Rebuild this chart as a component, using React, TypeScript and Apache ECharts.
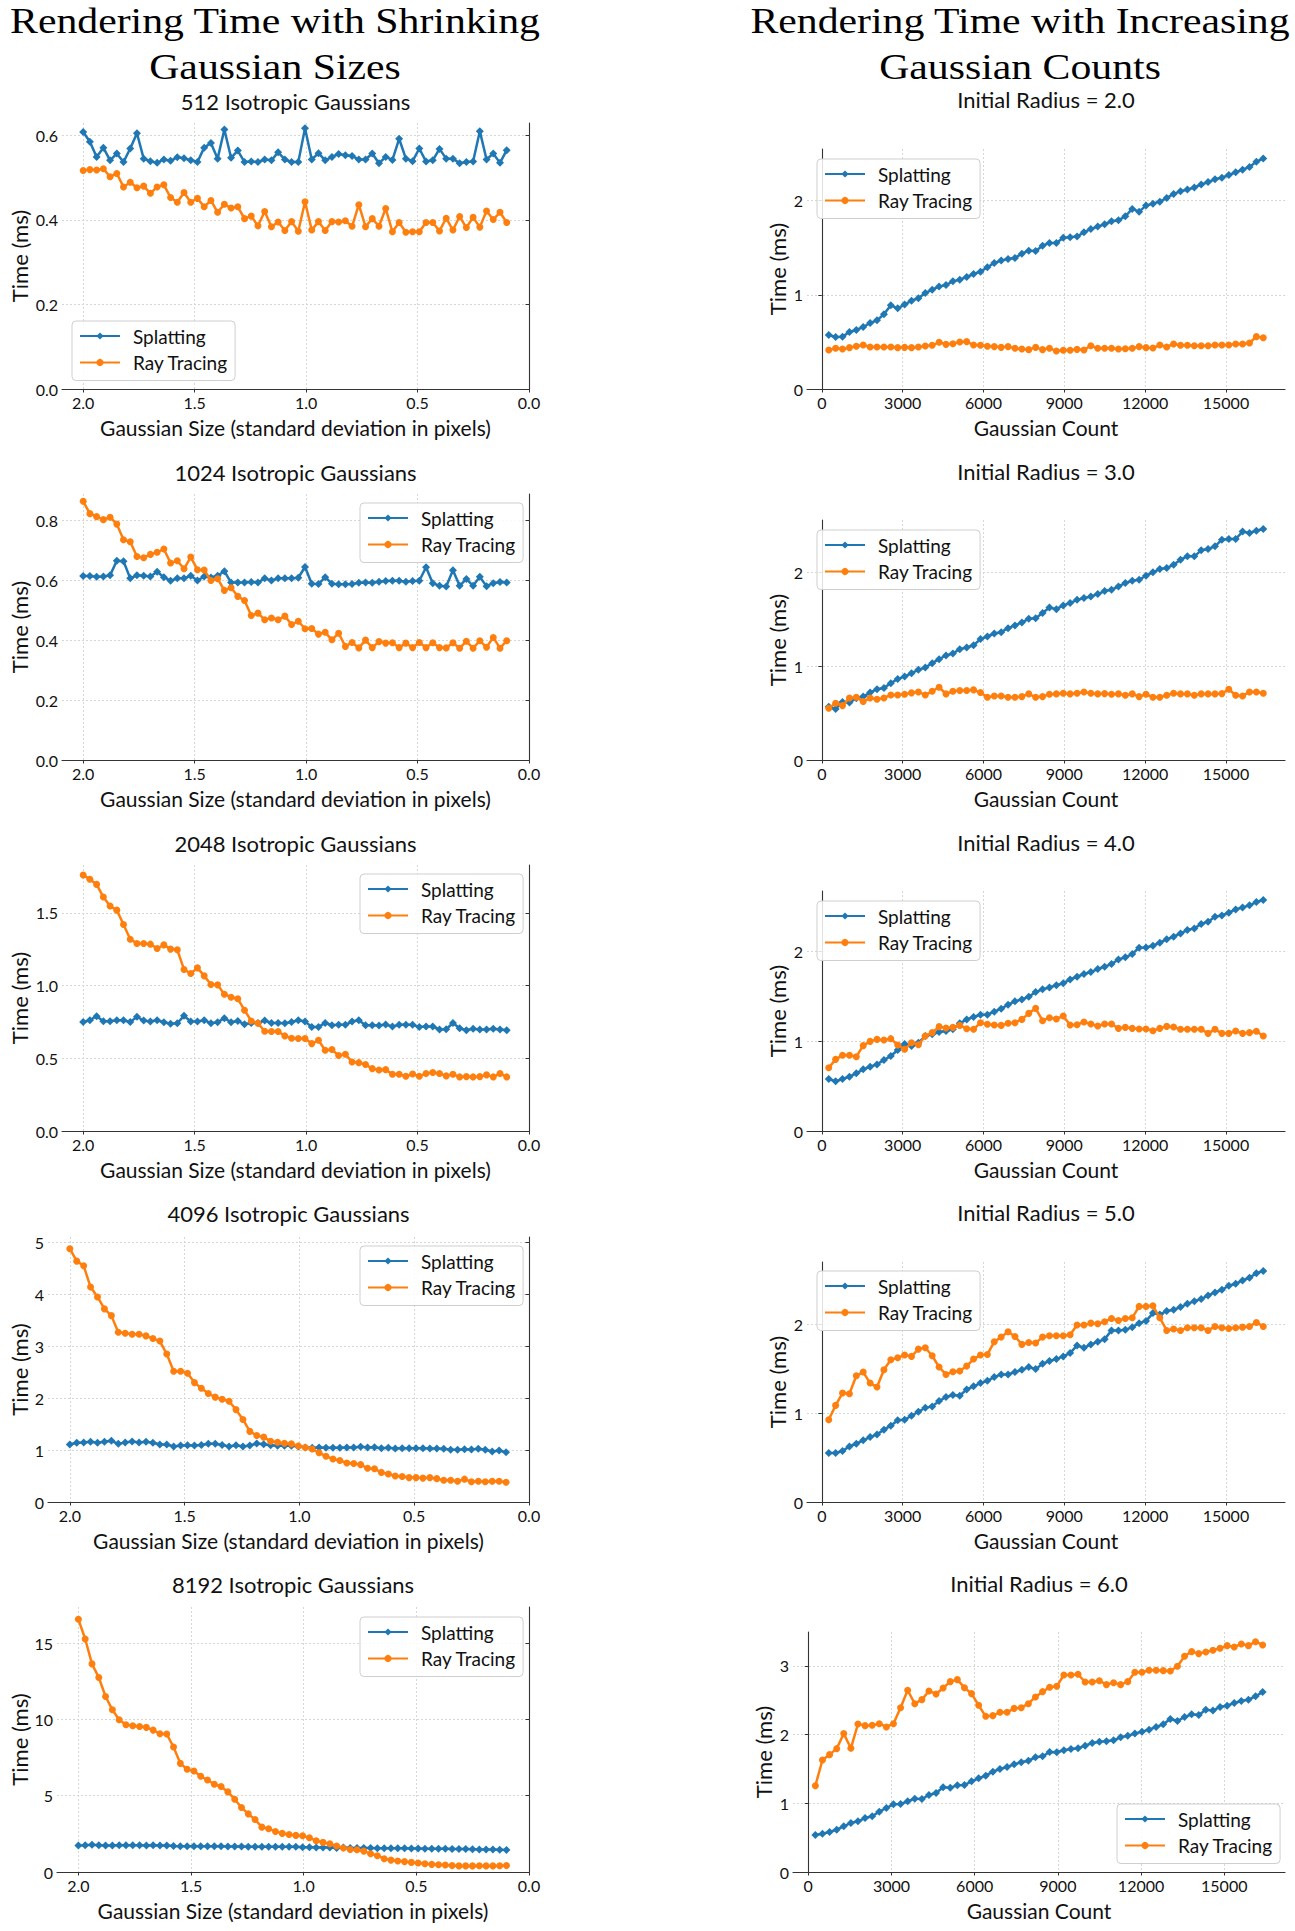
import React, { useEffect, useRef } from "react";
import * as echarts from "echarts";

// ---------- sample grids ----------
const N = 64;
const sizes = Array.from({ length: N }, (_, i) => 2 - (i * 1.9) / 63); // std-dev in pixels
const counts = Array.from({ length: N }, (_, i) => 256 * (i + 1)); // gaussian counts

// ---------- left column: shrinking gaussian sizes ----------
const splat512 = [0.608,0.585,0.549,0.571,0.541,0.557,0.537,0.569,0.605,0.545,0.539,0.535,0.543,0.540,0.548,0.546,0.541,0.537,0.571,0.582,0.545,0.614,0.547,0.564,0.537,0.538,0.537,0.543,0.541,0.560,0.543,0.537,0.537,0.617,0.543,0.558,0.541,0.549,0.556,0.553,0.551,0.543,0.543,0.557,0.534,0.549,0.542,0.592,0.545,0.539,0.569,0.538,0.541,0.568,0.545,0.545,0.534,0.537,0.538,0.610,0.543,0.557,0.535,0.565];
const ray512 = [0.517,0.519,0.518,0.521,0.502,0.510,0.478,0.489,0.476,0.480,0.463,0.478,0.483,0.453,0.442,0.465,0.442,0.451,0.431,0.446,0.418,0.437,0.428,0.431,0.403,0.409,0.386,0.420,0.384,0.395,0.375,0.396,0.373,0.443,0.376,0.396,0.375,0.396,0.395,0.398,0.385,0.436,0.384,0.403,0.385,0.427,0.372,0.394,0.371,0.372,0.372,0.394,0.394,0.374,0.404,0.376,0.408,0.382,0.406,0.383,0.421,0.401,0.418,0.394];

const splat1024 = [0.614,0.614,0.611,0.612,0.616,0.665,0.663,0.606,0.616,0.615,0.612,0.628,0.610,0.598,0.606,0.606,0.615,0.599,0.612,0.609,0.615,0.630,0.592,0.592,0.592,0.594,0.592,0.606,0.599,0.606,0.606,0.606,0.608,0.644,0.588,0.587,0.610,0.588,0.586,0.586,0.587,0.591,0.592,0.591,0.595,0.597,0.598,0.598,0.595,0.597,0.598,0.643,0.590,0.581,0.579,0.633,0.581,0.604,0.581,0.611,0.580,0.590,0.594,0.592];
const ray1024 = [0.863,0.822,0.812,0.802,0.810,0.787,0.735,0.728,0.679,0.675,0.686,0.693,0.704,0.657,0.665,0.638,0.677,0.635,0.634,0.599,0.605,0.566,0.575,0.546,0.532,0.482,0.490,0.468,0.474,0.468,0.480,0.452,0.463,0.438,0.439,0.420,0.426,0.401,0.423,0.379,0.392,0.374,0.400,0.375,0.395,0.390,0.391,0.375,0.390,0.375,0.392,0.375,0.391,0.375,0.374,0.391,0.373,0.396,0.373,0.398,0.376,0.409,0.373,0.398];

const splat2048 = [0.750,0.762,0.789,0.755,0.755,0.762,0.762,0.750,0.785,0.760,0.753,0.762,0.748,0.737,0.741,0.792,0.753,0.753,0.762,0.741,0.748,0.776,0.748,0.757,0.734,0.743,0.743,0.760,0.743,0.743,0.741,0.750,0.762,0.753,0.716,0.716,0.743,0.727,0.730,0.730,0.753,0.762,0.727,0.727,0.725,0.732,0.718,0.730,0.730,0.730,0.716,0.718,0.718,0.698,0.700,0.743,0.707,0.693,0.704,0.698,0.698,0.704,0.698,0.693];
const ray2048 = [1.760,1.732,1.696,1.609,1.547,1.519,1.420,1.319,1.290,1.290,1.285,1.255,1.280,1.251,1.246,1.111,1.083,1.122,1.067,1.007,1.005,0.941,0.920,0.909,0.831,0.757,0.741,0.686,0.684,0.684,0.654,0.638,0.636,0.636,0.601,0.624,0.555,0.560,0.519,0.528,0.475,0.470,0.457,0.429,0.420,0.422,0.390,0.390,0.376,0.392,0.376,0.395,0.402,0.395,0.379,0.390,0.372,0.374,0.372,0.374,0.386,0.372,0.395,0.372];

const splat4096 = [1.108,1.140,1.146,1.159,1.140,1.159,1.178,1.120,1.146,1.165,1.146,1.159,1.140,1.108,1.108,1.070,1.090,1.095,1.090,1.100,1.120,1.120,1.100,1.070,1.095,1.070,1.090,1.127,1.114,1.095,1.082,1.082,1.082,1.070,1.050,1.044,1.050,1.044,1.044,1.044,1.050,1.050,1.063,1.050,1.056,1.037,1.044,1.031,1.037,1.037,1.037,1.037,1.031,1.031,1.024,1.005,1.005,1.018,1.011,1.024,1.005,0.973,0.992,0.960];
const ray4096 = [4.88,4.64,4.55,4.14,3.95,3.72,3.59,3.27,3.25,3.23,3.23,3.20,3.15,3.10,2.85,2.52,2.52,2.48,2.30,2.19,2.09,2.02,1.98,1.94,1.78,1.59,1.36,1.28,1.25,1.17,1.15,1.13,1.12,1.08,1.05,1.02,0.95,0.88,0.83,0.80,0.75,0.74,0.72,0.65,0.64,0.57,0.54,0.50,0.49,0.47,0.47,0.46,0.47,0.45,0.42,0.42,0.40,0.44,0.39,0.40,0.39,0.40,0.40,0.38];

const splat8192 = [1.74,1.75,1.78,1.76,1.74,1.74,1.75,1.76,1.75,1.76,1.74,1.75,1.74,1.73,1.70,1.68,1.69,1.68,1.68,1.69,1.68,1.68,1.67,1.67,1.67,1.66,1.66,1.66,1.66,1.66,1.66,1.65,1.65,1.63,1.62,1.61,1.61,1.61,1.58,1.60,1.58,1.58,1.57,1.57,1.56,1.56,1.55,1.55,1.56,1.54,1.54,1.53,1.53,1.52,1.52,1.51,1.50,1.50,1.49,1.48,1.48,1.47,1.46,1.45];
const ray8192 = [16.56,15.27,13.64,12.75,11.50,10.63,9.98,9.65,9.59,9.54,9.48,9.30,9.06,9.04,8.19,7.12,6.73,6.62,6.27,6.03,5.75,5.60,5.25,4.77,4.23,3.81,3.44,2.94,2.83,2.66,2.53,2.46,2.40,2.37,2.24,2.05,1.94,1.85,1.70,1.57,1.48,1.46,1.37,1.20,1.07,0.87,0.78,0.72,0.68,0.63,0.59,0.54,0.50,0.48,0.46,0.42,0.40,0.40,0.40,0.41,0.40,0.40,0.41,0.42];

// ---------- right column: increasing gaussian counts ----------
const splatR2 = [0.573,0.552,0.556,0.605,0.627,0.658,0.701,0.729,0.793,0.888,0.857,0.896,0.938,0.963,1.019,1.055,1.087,1.104,1.143,1.161,1.189,1.221,1.246,1.292,1.338,1.363,1.381,1.391,1.437,1.469,1.465,1.522,1.550,1.550,1.607,1.611,1.618,1.664,1.699,1.724,1.749,1.781,1.791,1.834,1.912,1.883,1.947,1.968,1.989,2.028,2.071,2.099,2.117,2.140,2.170,2.198,2.226,2.244,2.272,2.300,2.329,2.357,2.414,2.446];
const rayR2 = [0.414,0.432,0.425,0.439,0.453,0.467,0.446,0.446,0.446,0.446,0.439,0.442,0.439,0.446,0.457,0.464,0.496,0.474,0.481,0.499,0.503,0.467,0.464,0.453,0.450,0.442,0.450,0.432,0.425,0.418,0.442,0.418,0.432,0.404,0.411,0.411,0.421,0.414,0.460,0.432,0.432,0.432,0.425,0.428,0.432,0.450,0.439,0.435,0.467,0.446,0.478,0.464,0.464,0.460,0.460,0.460,0.467,0.467,0.467,0.478,0.478,0.488,0.556,0.545];

const splatR3 = [0.570,0.545,0.620,0.613,0.660,0.677,0.720,0.756,0.770,0.820,0.866,0.891,0.927,0.963,0.988,1.034,1.077,1.116,1.137,1.184,1.201,1.226,1.291,1.319,1.351,1.365,1.408,1.437,1.469,1.508,1.515,1.569,1.629,1.611,1.651,1.676,1.711,1.729,1.747,1.772,1.804,1.818,1.854,1.890,1.914,1.925,1.968,2.004,2.039,2.050,2.086,2.139,2.175,2.175,2.239,2.253,2.282,2.353,2.360,2.360,2.439,2.424,2.449,2.467];
const rayR3 = [0.553,0.606,0.581,0.663,0.670,0.624,0.663,0.649,0.663,0.695,0.695,0.702,0.717,0.727,0.695,0.734,0.777,0.706,0.734,0.742,0.742,0.749,0.720,0.670,0.684,0.684,0.670,0.670,0.677,0.706,0.670,0.677,0.702,0.706,0.713,0.706,0.713,0.727,0.713,0.706,0.709,0.702,0.706,0.692,0.706,0.677,0.702,0.670,0.670,0.692,0.713,0.706,0.706,0.692,0.706,0.706,0.706,0.709,0.756,0.692,0.684,0.727,0.727,0.713];

const splatR4 = [0.580,0.554,0.580,0.606,0.643,0.688,0.717,0.743,0.792,0.836,0.903,0.970,0.948,0.985,1.059,1.078,1.104,1.115,1.134,1.201,1.245,1.271,1.297,1.297,1.331,1.364,1.409,1.446,1.468,1.498,1.550,1.580,1.602,1.625,1.647,1.691,1.721,1.751,1.773,1.807,1.833,1.862,1.914,1.937,1.974,2.045,2.048,2.067,2.100,2.138,2.167,2.204,2.242,2.260,2.309,2.335,2.390,2.405,2.435,2.472,2.494,2.517,2.554,2.576];
const rayR4 = [0.706,0.799,0.844,0.844,0.829,0.952,1.000,1.022,1.015,1.030,0.959,0.911,0.985,0.963,1.059,1.097,1.164,1.149,1.156,1.178,1.141,1.134,1.208,1.190,1.182,1.178,1.201,1.208,1.245,1.312,1.368,1.230,1.264,1.249,1.283,1.182,1.186,1.216,1.193,1.171,1.193,1.193,1.145,1.156,1.145,1.138,1.138,1.119,1.145,1.167,1.160,1.134,1.134,1.134,1.134,1.089,1.134,1.089,1.089,1.115,1.089,1.097,1.112,1.059];

const splatR5 = [0.551,0.551,0.573,0.625,0.655,0.693,0.730,0.760,0.813,0.858,0.918,0.925,0.970,1.015,1.060,1.075,1.135,1.180,1.202,1.195,1.266,1.300,1.337,1.363,1.404,1.434,1.434,1.461,1.487,1.517,1.494,1.554,1.584,1.607,1.637,1.674,1.760,1.734,1.772,1.801,1.831,1.929,1.929,1.936,1.966,2.011,2.034,2.124,2.109,2.146,2.161,2.191,2.228,2.258,2.281,2.322,2.356,2.386,2.431,2.453,2.491,2.521,2.573,2.596];
const rayR5 = [0.925,1.086,1.225,1.217,1.419,1.461,1.337,1.292,1.487,1.599,1.622,1.652,1.637,1.719,1.734,1.644,1.517,1.434,1.464,1.472,1.528,1.607,1.652,1.659,1.801,1.854,1.914,1.861,1.772,1.794,1.787,1.854,1.869,1.869,1.869,1.880,1.989,1.989,2.011,2.004,2.026,2.064,2.041,2.064,2.071,2.199,2.199,2.206,2.071,1.929,1.944,1.929,1.959,1.959,1.959,1.929,1.974,1.959,1.951,1.959,1.966,1.974,2.019,1.974];

const splatR6 = [0.539,0.558,0.583,0.617,0.665,0.714,0.738,0.786,0.811,0.879,0.932,0.985,0.990,1.029,1.068,1.063,1.121,1.150,1.233,1.228,1.262,1.267,1.320,1.364,1.403,1.461,1.500,1.529,1.568,1.597,1.621,1.670,1.684,1.748,1.743,1.772,1.791,1.801,1.840,1.879,1.898,1.903,1.917,1.961,1.985,2.015,2.044,2.073,2.112,2.150,2.228,2.199,2.257,2.296,2.286,2.364,2.350,2.403,2.422,2.461,2.490,2.510,2.558,2.621];
const rayR6 = [1.257,1.631,1.709,1.796,2.015,1.801,2.155,2.131,2.136,2.160,2.112,2.160,2.393,2.646,2.451,2.510,2.636,2.592,2.680,2.772,2.801,2.684,2.597,2.427,2.267,2.277,2.325,2.325,2.383,2.393,2.451,2.549,2.626,2.689,2.704,2.869,2.869,2.879,2.767,2.767,2.786,2.728,2.757,2.728,2.772,2.908,2.908,2.937,2.937,2.932,2.927,2.995,3.141,3.209,3.180,3.204,3.228,3.257,3.296,3.277,3.320,3.296,3.354,3.306];

const SERIES_NAMES = ["Splatting", "Ray Tracing"];
const COLORS = ["#1f77b4", "#ff7f0e"];
const SANS = 'Lato, "Open Sans", "Noto Sans", sans-serif';
const SERIF = '"Liberation Serif", "DejaVu Serif", serif';

type Panel = {
  title: string;
  kind: "size" | "count";
  splat: number[];
  ray: number[];
  box: { l: number; t: number; r: number; b: number };
  titleY: number;
  ylabelX: number;
  legend: { left: number; top: number };
  yInt: number;
  yDec: number;
};

const panels: Panel[] = [
  { title: "512 Isotropic Gaussians", kind: "size", splat: splat512, ray: ray512, box: { l: 62, t: 123, r: 529, b: 389 }, titleY: 101, ylabelX: 19, legend: { left: 72, top: 321 }, yInt: 0.2, yDec: 1 },
  { title: "1024 Isotropic Gaussians", kind: "size", splat: splat1024, ray: ray1024, box: { l: 62, t: 494, r: 529, b: 760 }, titleY: 472, ylabelX: 19, legend: { left: 360, top: 503 }, yInt: 0.2, yDec: 1 },
  { title: "2048 Isotropic Gaussians", kind: "size", splat: splat2048, ray: ray2048, box: { l: 62, t: 865, r: 529, b: 1131 }, titleY: 843, ylabelX: 19, legend: { left: 360, top: 874 }, yInt: 0.5, yDec: 1 },
  { title: "4096 Isotropic Gaussians", kind: "size", splat: splat4096, ray: ray4096, box: { l: 48, t: 1237, r: 529, b: 1502 }, titleY: 1213, ylabelX: 19, legend: { left: 360, top: 1246 }, yInt: 1, yDec: 0 },
  { title: "8192 Isotropic Gaussians", kind: "size", splat: splat8192, ray: ray8192, box: { l: 57, t: 1607, r: 529, b: 1872 }, titleY: 1584, ylabelX: 19, legend: { left: 360, top: 1617 }, yInt: 5, yDec: 0 },
  { title: "Initial Radius = 2.0", kind: "count", splat: splatR2, ray: rayR2, box: { l: 807, t: 149, r: 1285, b: 389 }, titleY: 99, ylabelX: 777, legend: { left: 817, top: 159 }, yInt: 1, yDec: 0 },
  { title: "Initial Radius = 3.0", kind: "count", splat: splatR3, ray: rayR3, box: { l: 807, t: 520, r: 1285, b: 760 }, titleY: 471, ylabelX: 777, legend: { left: 817, top: 530 }, yInt: 1, yDec: 0 },
  { title: "Initial Radius = 4.0", kind: "count", splat: splatR4, ray: rayR4, box: { l: 807, t: 891, r: 1285, b: 1131 }, titleY: 842, ylabelX: 777, legend: { left: 817, top: 901 }, yInt: 1, yDec: 0 },
  { title: "Initial Radius = 5.0", kind: "count", splat: splatR5, ray: rayR5, box: { l: 807, t: 1262, r: 1285, b: 1502 }, titleY: 1212, ylabelX: 777, legend: { left: 817, top: 1271 }, yInt: 1, yDec: 0 },
  { title: "Initial Radius = 6.0", kind: "count", splat: splatR6, ray: rayR6, box: { l: 793, t: 1632, r: 1285, b: 1872 }, titleY: 1583, ylabelX: 763, legend: { left: 1117, top: 1804 }, yInt: 1, yDec: 0 },
];

const W = 1295;
const H = 1931;

function buildOption() {
  const grid: any[] = [];
  const xAxis: any[] = [];
  const yAxis: any[] = [];
  const series: any[] = [];
  const legend: any[] = [];
  const graphic: any[] = [];

  const gridLine = { show: true, lineStyle: { color: "#d6d6d6", type: [2, 2], width: 1 } };
  const axisLine = { show: true, lineStyle: { color: "#333333", width: 1.1 } };
  const axisTick = { show: true, length: 3.5, lineStyle: { color: "#333333", width: 1 } };
  const tickFont = { fontFamily: SANS, fontSize: 16, color: "#111" };

  panels.forEach((p, i) => {
    const { l, t, r, b } = p.box;
    grid.push({ left: l, top: t, width: r - l, height: b - t, containLabel: false });

    const xs = p.kind === "size" ? sizes : counts;
    if (p.kind === "size") {
      const span = xs[0] - xs[xs.length - 1];
      xAxis.push({
        type: "value", gridIndex: i, min: 0, max: xs[0] + 0.05 * span, interval: 0.5, inverse: true,
        axisLine, axisTick,
        axisLabel: { ...tickFont, margin: 5, showMaxLabel: false, formatter: (v: number) => v.toFixed(1) },
        splitLine: { ...gridLine, showMaxLine: false },
      });
    } else {
      const span = xs[xs.length - 1] - xs[0];
      xAxis.push({
        type: "value", gridIndex: i, min: xs[0] - 0.05 * span, max: xs[xs.length - 1] + 0.05 * span, splitNumber: 6,
        axisLine, axisTick,
        axisLabel: { ...tickFont, margin: 5, showMinLabel: false, showMaxLabel: false, formatter: (v: number) => String(Math.round(v)) },
        splitLine: { ...gridLine, showMinLine: false, showMaxLine: false },
      });
    }

    const all = p.splat.concat(p.ray);
    const dmax = Math.max(...all);
    const dmin = Math.min(...all);
    yAxis.push({
      type: "value", gridIndex: i, min: 0, max: dmax + 0.05 * (dmax - dmin), interval: p.yInt,
      axisLine, axisTick,
      axisLabel: { ...tickFont, margin: 4, showMaxLabel: false, formatter: (v: number) => v.toFixed(p.yDec) },
      splitLine: { ...gridLine, showMaxLine: false },
    });

    [p.splat, p.ray].forEach((vals, k) => {
      series.push({
        type: "line",
        name: SERIES_NAMES[k],
        xAxisIndex: i,
        yAxisIndex: i,
        data: vals.map((v, j) => [xs[j], v]),
        symbol: k === 0 ? "diamond" : "circle",
        symbolSize: k === 0 ? 8 : 7,
        showSymbol: true,
        lineStyle: { width: 2.5, color: COLORS[k] },
        itemStyle: { color: COLORS[k] },
        emphasis: { disabled: true },
        silent: true,
        z: 2 + k,
      });
    });

    legend.push({
      orient: "vertical",
      left: p.legend.left,
      top: p.legend.top,
      data: SERIES_NAMES,
      itemWidth: 40,
      itemHeight: 9,
      itemGap: 6.5,
      padding: [5, 7, 8, 7],
      backgroundColor: "rgba(255,255,255,0.85)",
      borderColor: "#cfcfcf",
      borderWidth: 1,
      borderRadius: 4,
      selectedMode: false,
      textStyle: { fontFamily: SANS, fontSize: 19, color: "#111", lineHeight: 20, padding: [0, 0, 0, 8] },
    });

    const cx = (l + r) / 2;
    graphic.push({
      type: "text", x: cx, y: p.titleY, silent: true,
      style: { text: p.title, fontFamily: SANS, fontSize: 22, fill: "#111", textAlign: "center", textVerticalAlign: "middle" },
    });
    graphic.push({
      type: "text", x: cx, y: b + 38, silent: true,
      style: {
        text: p.kind === "size" ? "Gaussian Size (standard deviation in pixels)" : "Gaussian Count",
        fontFamily: SANS, fontSize: 21, fill: "#111", textAlign: "center", textVerticalAlign: "middle",
      },
    });
    graphic.push({
      type: "text", x: p.ylabelX, y: (t + b) / 2, rotation: Math.PI / 2, silent: true,
      style: { text: "Time (ms)", fontFamily: SANS, fontSize: 22, fill: "#111", textAlign: "center", textVerticalAlign: "middle" },
    });
  });

  // column super-titles
  const sup = [
    { x: 275, lines: ["Rendering Time with Shrinking", "Gaussian Sizes"] },
    { x: 1020, lines: ["Rendering Time with Increasing", "Gaussian Counts"] },
  ];
  sup.forEach((s) => {
    s.lines.forEach((txt, k) => {
      graphic.push({
        type: "text", x: s.x, y: 21 + k * 45.5, scaleX: 1.16, silent: true,
        style: { text: txt, fontFamily: SERIF, fontSize: 36, lineHeight: 30, fill: "#000", textAlign: "center", textVerticalAlign: "middle" },
      });
    });
  });

  return {
    animation: false,
    backgroundColor: "#ffffff",
    grid,
    xAxis,
    yAxis,
    series,
    legend,
    graphic,
  };
}

export default function App() {
  const ref = useRef<HTMLDivElement>(null);
  useEffect(() => {
    if (!ref.current) return;
    const chart = echarts.init(ref.current, undefined, { renderer: "svg", width: W, height: H });
    chart.setOption(buildOption() as any);
    return () => chart.dispose();
  }, []);
  return (
    <div
      ref={ref}
      style={{ position: "absolute", left: 0, top: 0, width: W, height: H, background: "#fff" }}
    />
  );
}
